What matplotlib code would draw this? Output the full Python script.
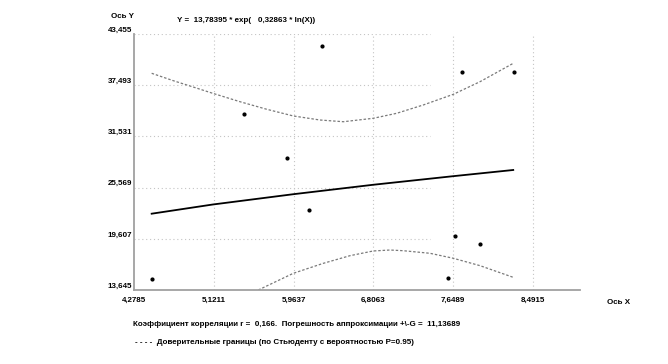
import matplotlib
matplotlib.use("Agg")
import matplotlib.pyplot as plt

# observed points
x_pts = [4.465, 5.443, 5.891, 6.126, 6.267, 7.745, 8.294, 7.668, 7.932, 7.597]
y_pts = [14.96, 34.10, 28.98, 23.00, 42.09, 39.07, 39.07, 19.97, 19.00, 15.01]

# fitted curve Y = 13,78395 * X^0,32863
x_fit = [4.465, 5.110, 5.961, 6.805, 7.650, 8.283]
y_fit = [22.53, 23.60, 24.80, 25.90, 26.90, 27.62]

# confidence bands
x_up = [4.465, 4.693, 4.870, 5.110, 5.398, 5.680, 5.961, 6.242, 6.489,
        6.805, 7.052, 7.333, 7.650, 7.932, 8.283]
y_up = [38.88, 38.02, 37.40, 36.55, 35.57, 34.69, 33.91, 33.44, 33.24,
        33.64, 34.22, 35.19, 36.43, 37.90, 40.04]
x_lo = [5.591, 5.961, 6.277, 6.559, 6.805, 6.982, 7.122, 7.404, 7.650,
        7.932, 8.283]
y_lo = [13.645, 15.59, 16.75, 17.64, 18.19, 18.30, 18.22, 17.92, 17.34,
        16.48, 15.12]

x_ticks = [4.2785, 5.1211, 5.9637, 6.8063, 7.6489, 8.4915]
y_ticks = [13.645, 19.607, 25.569, 31.531, 37.493, 43.455]
x_labels = ["4,2785", "5,1211", "5,9637", "6,8063", "7,6489", "8,4915"]
y_labels = ["13,645", "19,607", "25,569", "31,531", "37,493", "43,455"]

W, H = 668, 364
font = dict(family="Liberation Sans", fontweight="bold", fontsize=5.8)

fig = plt.figure(figsize=(W / 100, H / 100), dpi=100)
ax = fig.add_axes([134 / W, (H - 290) / H, (580 - 134) / W, (290 - 34) / H])
ax.set_xlim(4.2785, 8.988)
ax.set_ylim(13.645, 43.455)
ax.set_xticks([])
ax.set_yticks([])
for s in ["top", "right"]:
    ax.spines[s].set_visible(False)
for s in ["left", "bottom"]:
    ax.spines[s].set_color("#a0a0a0")
    ax.spines[s].set_linewidth(1.3)

# grid: vertical full height, horizontal only partway
grid = dict(color="#c4c4c4", linewidth=0.8, linestyle=(0, (1, 2.5)), zorder=0)
for xv in x_ticks[1:]:
    ax.plot([xv, xv], [13.645, 43.455], **grid)
for yv in y_ticks[1:]:
    ax.plot([4.2785, 7.404], [yv, yv], **grid)

ax.plot(x_fit, y_fit, color="black", linewidth=1.3, zorder=3)
band = dict(color="#7a7a7a", linewidth=0.9, linestyle=(0, (2, 1.5)), zorder=2)
ax.plot(x_up, y_up, **band)
ax.plot(x_lo, y_lo, **band)
ax.plot(x_pts, y_pts, "o", color="black", markersize=2.0, zorder=4)

# tick labels
for xv, lab in zip(x_ticks, x_labels):
    ax.text(xv, 13.645 - 0.75, lab, ha="center", va="top", **font)
for yv, lab in zip(y_ticks, y_labels):
    ax.text(4.2785 - 0.02, yv + 0.05, lab, ha="right", va="bottom", **font)

# axis names and captions (figure pixel coords)
def ftext(x, y, s, **kw):
    fig.text(x / W, 1 - y / H, s, va="center", **font, **kw)

ftext(111, 17, "Ось Y")
ftext(607, 302, "Ось X")
ftext(177, 21, "Y =  13,78395 * exp(   0,32863 * ln(X))")
ftext(133, 324, "Коэффициент корреляции r =  0,166.  Погрешность аппроксимации +\\-G =  11,13689")
ftext(135, 343, "- - - -  Доверительные границы (по Стьюденту с вероятностью P=0.95)")

fig.savefig("out.png", dpi=100)
